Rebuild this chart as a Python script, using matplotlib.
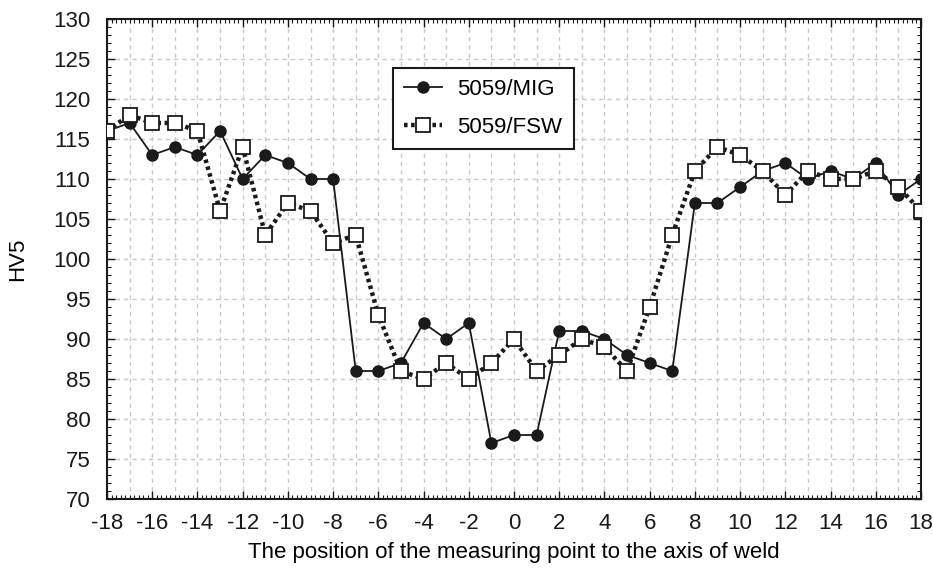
import matplotlib
matplotlib.use("Agg")
from matplotlib import pyplot
from matplotlib.ticker import MultipleLocator

pyplot.rcParams['font.family'] = ['Liberation Sans', 'DejaVu Sans']
pyplot.rcParams['axes.unicode_minus'] = False

# position relative to weld axis
positions = list(range(-18, 19))
hv_mig = [116, 117, 113, 114, 113, 116, 110, 113, 112, 110, 110, 86, 86, 87, 92, 90, 92, 77, 78,
          78, 91, 91, 90, 88, 87, 86, 107, 107, 109, 111, 112, 110, 111, 110, 112, 108, 110]
hv_fsw = [116, 118, 117, 117, 116, 106, 114, 103, 107, 106, 102, 103, 93, 86, 85, 87, 85, 87, 90,
          86, 88, 90, 89, 86, 94, 103, 111, 114, 113, 111, 108, 111, 110, 110, 111, 109, 106]
series_names = ['5059/MIG', '5059/FSW']
x_ticks = list(range(-18, 19, 2))
y_ticks = list(range(70, 131, 5))

fig = pyplot.figure(figsize=(9.33, 5.70), dpi=100)
ax = fig.add_axes([0.1147, 0.1245, 0.8724, 0.8422])

ax.plot(positions, hv_mig, color='#1a1a1a', linestyle='-', linewidth=1.3,
        marker='o', markersize=8, markerfacecolor='#1a1a1a', markeredgecolor='#1a1a1a',
        label=series_names[0], zorder=3)
ax.plot(positions, hv_fsw, color='#1a1a1a', linestyle=(0, (0.8, 0.8)), linewidth=3.2,
        marker='s', markersize=10, markerfacecolor='white', markeredgecolor='#1a1a1a',
        markeredgewidth=1.3, label=series_names[1], zorder=4)

ax.set_xlim(-18, 18)
ax.set_ylim(70, 130)
ax.set_xticks(x_ticks)
ax.set_yticks(y_ticks)
ax.xaxis.set_minor_locator(MultipleLocator(0.2))
ax.yaxis.set_minor_locator(MultipleLocator(1))

# grid: every integer in x, every 5 in y
for xv in range(-17, 18):
    ax.axvline(xv, color='#c8c8c8', linestyle=(0, (3, 3)), linewidth=1.0, zorder=0)
for yv in y_ticks[1:-1]:
    ax.axhline(yv, color='#c8c8c8', linestyle=(0, (3, 3)), linewidth=1.0, zorder=0)

ax.tick_params(which='both', direction='in', top=True, right=True, labelsize=16, colors='#1a1a1a')
ax.tick_params(which='major', length=6, width=1.0)
ax.tick_params(which='minor', length=3, width=0.8)
ax.tick_params(axis='x', which='major', pad=10)
ax.tick_params(axis='y', which='major', pad=12)
for s in ax.spines.values():
    s.set_linewidth(1.5)
    s.set_color('#1a1a1a')

ax.set_xlabel('The position of the measuring point to the axis of weld', fontsize=16,
              family=['Liberation Sans Narrow', 'Liberation Sans', 'DejaVu Sans'], labelpad=6)
ax.set_ylabel('HV5', fontsize=16, labelpad=18)

leg = ax.legend(loc='upper left', bbox_to_anchor=(0.4212, 0.8807), bbox_transform=fig.transFigure,
                fontsize=16, frameon=True, fancybox=False, edgecolor='#1a1a1a', borderaxespad=0,
                handlelength=1.7, handletextpad=0.7, borderpad=0.5, labelspacing=0.75)
leg.get_frame().set_linewidth(1.5)
leg.get_frame().set_alpha(1)

fig.savefig('out.png', dpi=100)
